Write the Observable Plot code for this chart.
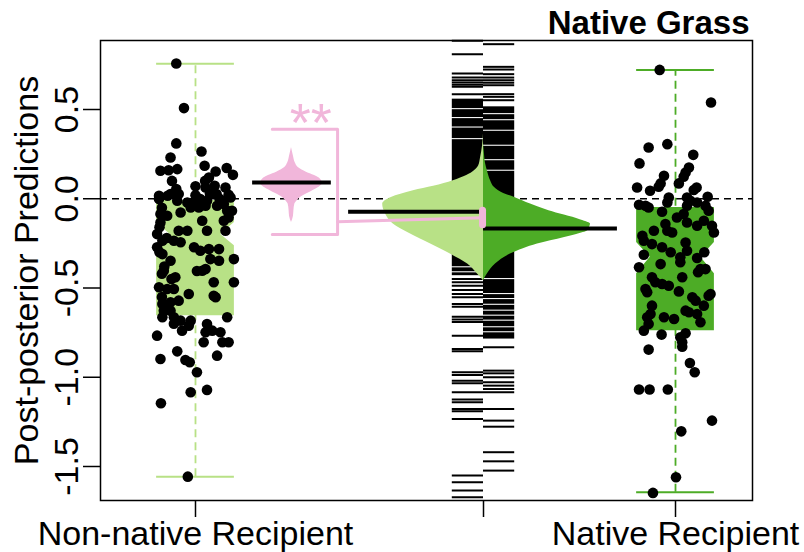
<!DOCTYPE html>
<html><head><meta charset="utf-8">
<script src="https://cdn.jsdelivr.net/npm/d3@7"></script>
<script src="https://cdn.jsdelivr.net/npm/@observablehq/plot@0.6"></script>
<style>body{margin:0;background:#fff}</style>
</head><body><div id="chart"></div>
<script>
// ---------- data ----------
const yTicks = [-1.5, -1, -0.5, 0, 0.5];
const xTicks = [1, 1.6, 2];
const xTickLabels = ["Non-native Recipient", "", "Native Recipient"];
const title = "Native Grass";
const yLabel = "Post-posterior Predictions";
const signif = "**";

// box stats: [min, q1, notchLo, median, notchHi, q3, max]
const nonNativeBox = [-1.557, -0.655, -0.263, -0.2, -0.133, -0.01, 0.757];
const nativeBox = [-1.644, -0.739, -0.42, -0.328, -0.245, -0.049, 0.722];

// jittered observations [x offset, value]
const nonNativePts = [
[-0.04,0.758],[-0.024,0.508],[-0.04,0.31],[0.0125,0.265],[-0.052,0.231],[-0.073,0.157],[-0.056,0.16],[-0.038,0.166],
[0.019,0.185],[0.065,0.172],[0.078,0.134],[0.042,0.153],[0.028,0.119],[0.021,0.063],[0.04,0.073],[0.044,0.026],
[0.0625,0.063],[0.069,0.022],[-0.049,0.1],[-0.04,0.054],[-0.052,0.026],[-0.035,0.026],[-0.076,0.017],[-0.058,0.017],
[-0.076,-0.002],[-0.038,-0.011],[-0.017,-0.021],[0,-0.011],[0.01,-0.002],[0.024,-0.011],[0.056,-0.011],[0.073,0.007],
[-0.031,-0.077],[-0.01,-0.049],[0.007,-0.049],[0.021,-0.039],[0.045,-0.039],[0.066,-0.067],[0.076,-0.067],[0.059,-0.03],
[-0.073,-0.086],[-0.059,-0.095],[-0.073,-0.133],[0.014,-0.123],[0.024,-0.179],[0.059,-0.123],[0.0625,-0.179],[0.069,-0.105],
[-0.08,-0.198],[-0.069,-0.235],[-0.035,-0.179],[-0.017,-0.179],[-0.031,-0.244],[-0.045,-0.235],[-0.08,-0.272],[-0.003,-0.272],
[0.01,-0.291],[0.028,-0.282],[0.049,-0.282],[0.031,-0.338],[0.049,-0.347],[0.08,-0.338],[-0.069,-0.31],[-0.052,-0.347],
[-0.066,-0.403],[-0.042,-0.44],[0.014,-0.403],[0.021,-0.394],[0.003,-0.405],[-0.076,-0.496],[-0.059,-0.506],[-0.045,-0.506],
[-0.014,-0.534],[0.038,-0.468],[0.038,-0.543],[0.042,-0.552],[0.08,-0.468],[-0.069,-0.59],[-0.052,-0.58],[-0.035,-0.571],
[-0.066,-0.627],[-0.052,-0.627],[-0.069,-0.664],[-0.045,-0.664],[-0.031,-0.683],[-0.01,-0.683],[-0.014,-0.711],[-0.028,-0.739],
[0.024,-0.702],[0.021,-0.748],[0.035,-0.739],[0.066,-0.664],[0.052,-0.748],[0.056,-0.804],[0.069,-0.804],[-0.08,-0.767],
[-0.073,-0.898],[-0.038,-0.855],[-0.021,-0.903],[-0.012,-0.916],[0.003,-0.972],[0.017,-0.804],[0.045,-0.879],[-0.01,-1.084],
[0.024,-1.071],[-0.072,-1.146],[-0.016,-1.557],
[-0.07,-0.05],[-0.075,-0.16],[-0.06,-0.22],[-0.065,-0.38],[-0.05,-0.45],[-0.07,-0.55],[-0.06,-0.6],[-0.045,-0.7],
[-0.07,-0.42],[-0.075,-0.3],[0.0,0.02],[0.03,0.03],[0.05,0.0],[0.0,0.07],[0.02,0.1]
];
const nativePts = [
[-0.033,0.722],[0.074,0.539],[-0.056,0.287],[-0.017,0.306],[-0.075,0.198],[0.037,0.246],[0.028,0.175],[0.021,0.147],
[0.017,0.123],[0.007,0.086],[-0.024,0.129],[-0.031,0.086],[-0.035,0.067],[-0.08,0.063],[-0.053,0.045],[0.044,0.063],
[0.038,0.049],[0.067,0.011],[0.024,0.007],[-0.014,0.007],[-0.017,-0.021],[-0.076,-0.034],[-0.0625,-0.039],[-0.056,-0.049],
[0.031,-0.011],[0.045,-0.021],[0.0625,-0.039],[0.069,-0.067],[0.024,-0.039],[-0.028,-0.073],[-0.021,-0.142],[0.003,-0.105],
[0.017,-0.086],[0.024,-0.133],[0.045,-0.151],[0.059,-0.123],[0.076,-0.151],[0.08,-0.189],[-0.069,-0.207],[-0.045,-0.179],
[-0.017,-0.179],[-0.007,-0.189],[-0.066,-0.235],[-0.049,-0.254],[-0.028,-0.272],[-0.01,-0.3],[0.021,-0.245],[0.024,-0.291],
[0.01,-0.328],[0.01,-0.356],[0.045,-0.332],[0.06,-0.3],[-0.076,-0.384],[-0.066,-0.314],[-0.031,-0.366],[0.014,-0.44],
[0.047,-0.412],[0.052,-0.394],[0.0625,-0.394],[-0.049,-0.44],[-0.042,-0.468],[-0.028,-0.478],[-0.014,-0.487],[-0.0625,-0.506],
[-0.059,-0.524],[0.007,-0.519],[0.035,-0.552],[0.042,-0.571],[0.059,-0.599],[0.069,-0.543],[0.073,-0.534],[-0.049,-0.599],
[-0.052,-0.646],[-0.059,-0.664],[-0.056,-0.702],[-0.066,-0.739],[-0.024,-0.664],[-0.003,-0.674],[0.021,-0.627],[0.028,-0.636],
[0.045,-0.646],[0.052,-0.692],[-0.029,-0.761],[0.01,-0.776],[0.021,-0.754],[0.014,-0.804],[0.014,-0.829],[-0.056,-0.845],
[0.03,-0.92],[0.04,-0.972],[-0.076,-1.069],[-0.054,-1.069],[-0.016,-1.069],[0.076,-1.243],[0.012,-1.303],[0.001,-1.56],
[-0.047,-1.648]
];

// posterior densities: [value, half-width in x units]
const effectDensity = [
[-0.133,0],[-0.1,0.004],[-0.067,0.005],[-0.03,0.007],[-0.011,0.012],[0.01,0.02],[0.026,0.031],[0.05,0.048],
[0.07,0.06],[0.085,0.065],[0.1,0.063],[0.119,0.056],[0.13,0.048],[0.15,0.03],[0.175,0.014],[0.2,0.008],[0.24,0.004],[0.287,0]
];
const nonNativeDensity = [
[-0.459,0],[-0.422,0.0125],[-0.366,0.033],[-0.31,0.069],[-0.254,0.11],[-0.198,0.152],[-0.142,0.188],[-0.086,0.204],
[-0.03,0.21],[0.007,0.192],[0.045,0.146],[0.07,0.104],[0.101,0.063],[0.13,0.035],[0.157,0.019],[0.185,0.01],
[0.231,0.006],[0.297,0.002],[0.364,0]
];
const nativeDensity = [
[-0.459,0],[-0.422,0.008],[-0.366,0.025],[-0.31,0.056],[-0.28,0.083],[-0.254,0.1125],[-0.217,0.169],[-0.2,0.194],
[-0.179,0.217],[-0.16,0.221],[-0.142,0.223],[-0.123,0.208],[-0.11,0.194],[-0.086,0.16],[-0.06,0.129],[-0.03,0.098],
[0.007,0.065],[0.03,0.042],[0.063,0.023],[0.1,0.015],[0.157,0.008],[0.2,0.004],[0.25,0.002],[0.31,0]
];
// posterior means
const effectMean = 0.091;
const nonNativeMean = -0.073;
const nativeMean = -0.166;
const diffRange = [-0.067, -0.148];
const bracketRange = [0.39, -0.2];
const connector = [[1.296, -0.129], [1.6, -0.107]];

// posterior sample rugs
const rugNonNative = [0.885,0.81,0.702,0.679,0.664,0.651,0.638,0.627,0.586,-0.45,-0.468,-0.487,-0.511,-0.534,-0.552,
-0.59,-0.605,-0.661,-0.676,-0.691,-0.767,-0.842,-0.855,-0.972,-0.987,-1.019,-1.034,-1.084,-1.125,-1.14,-1.178,-1.191,
-1.234,-1.551,-1.588,-1.635,-1.672];
const rugNonNativeDense = [[0.558,0.505],[0.499,0.455],[0.449,0.402],[0.396,0.337],[0.331,-0.381],[-0.387,-0.409],[-0.415,-0.431]];
const rugNative = [0.866,0.739,0.724,0.698,0.679,0.664,0.65,0.636,0.586,0.571,0.552,-0.832,-0.963,-0.978,-1.0,-1.028,
-1.047,-1.066,-1.084,-1.178,-1.243,-1.277,-1.42,-1.471,-1.523];
const rugNativeDense = [[0.515,0.477],[0.471,0.443],[0.437,0.384],[0.378,0.3],[0.294,0.219],[0.213,0.16],[0.154,-0.447],
[-0.453,-0.531],[-0.537,-0.559],[-0.565,-0.591],[-0.597,-0.624],[-0.63,-0.652],[-0.658,-0.68],[-0.686,-0.717],[-0.723,-0.745],[-0.751,-0.786]];

// ---------- drawing ----------
const LIGHT = "#B8E186", DARK = "#4DAC26", PINK = "#F1B6DA";
const posNN = 1, posN = 2, posMid = 1.6, posEff = 1.2;
const boxHW = 0.081, notchFrac = 0.65, rugW = 0.065;

function boxOutline(b, c) {
  const [mn, q1, nl, md, nh, q3, mx] = b;
  return [[q1, boxHW], [nl, boxHW], [md, boxHW * notchFrac], [nh, boxHW], [q3, boxHW]].map(([y, w]) => ({y, x1: c - w, x2: c + w}));
}
function boxMarks(b, c, col) {
  const [mn, q1, nl, md, nh, q3, mx] = b;
  return [
    Plot.ruleX([[mn, mx]], {x: c, y1: d => d[0], y2: d => d[1], stroke: col, strokeWidth: 1.8, strokeDasharray: "8,5"}),
    Plot.ruleY([mn, mx], {y: d => d, x1: c - boxHW, x2: c + boxHW, stroke: col, strokeWidth: 2}),
    Plot.areaX(boxOutline(b, c), {y: "y", x1: "x1", x2: "x2", fill: col, curve: "linear"})
  ];
}

const chart = Plot.plot({
  width: 804, height: 552,
  marginLeft: 100, marginRight: 52, marginTop: 40, marginBottom: 52,
  x: {domain: [0.8021, 2.1604]},
  y: {domain: [-1.6905, 0.8866]},
  style: {fontFamily: "'Liberation Sans', Arial, Helvetica, sans-serif", background: "white", color: "black", overflow: "visible"},
  marks: [
    Plot.ruleY([0], {stroke: "black", strokeWidth: 1.5, strokeDasharray: "7,5"}),
    // rugs
    Plot.rect(rugNonNativeDense, {x1: posMid - rugW, x2: posMid, y1: d => d[0], y2: d => d[1], fill: "black"}),
    Plot.rect(rugNativeDense, {x1: posMid, x2: posMid + rugW, y1: d => d[0], y2: d => d[1], fill: "black"}),
    Plot.ruleY(rugNonNative, {y: d => d, x1: posMid - rugW, x2: posMid, stroke: "black", strokeWidth: 2}),
    Plot.ruleY(rugNative, {y: d => d, x1: posMid, x2: posMid + rugW, stroke: "black", strokeWidth: 2}),
    // split violin
    Plot.areaX(nonNativeDensity, {y: d => d[0], x1: d => posMid - d[1], x2: posMid, fill: LIGHT, curve: "monotone-y"}),
    Plot.areaX(nativeDensity, {y: d => d[0], x1: posMid, x2: d => posMid + d[1], fill: DARK, curve: "monotone-y"}),
    // effect violin
    Plot.areaX(effectDensity, {y: d => d[0], x1: d => posEff - d[1], x2: d => posEff + d[1], fill: PINK, curve: "monotone-y"}),
    // boxes
    ...boxMarks(nonNativeBox, posNN, LIGHT),
    ...boxMarks(nativeBox, posN, DARK),
    // mean lines
    Plot.ruleY([effectMean], {y: d => d, x1: 1.119, x2: 1.283, stroke: "black", strokeWidth: 4}),
    Plot.ruleY([nonNativeMean], {y: d => d, x1: 1.319, x2: posMid, stroke: "black", strokeWidth: 4}),
    Plot.ruleY([nativeMean], {y: d => d, x1: posMid, x2: 1.879, stroke: "black", strokeWidth: 4}),
    // bracket and connector
    Plot.line([[1.16, bracketRange[0]], [1.296, bracketRange[0]], [1.296, bracketRange[1]], [1.16, bracketRange[1]]],
      {x: d => d[0], y: d => d[1], stroke: PINK, strokeWidth: 3, curve: "linear"}),
    Plot.line(connector, {x: d => d[0], y: d => d[1], stroke: PINK, strokeWidth: 3}),
    Plot.ruleX([diffRange], {x: posMid - 0.002, y1: d => d[0], y2: d => d[1], stroke: PINK, strokeWidth: 7, strokeLinecap: "round"}),
    Plot.text([signif], {text: d => d, x: 1.24, y: 0.5, dy: 14, fill: PINK, fontSize: 54, textAnchor: "middle", lineAnchor: "middle"}),
    // points
    Plot.dot(nonNativePts, {x: d => posNN + d[0], y: d => d[1], r: 5.3, fill: "black", stroke: "none"}),
    Plot.dot(nativePts, {x: d => posN + d[0], y: d => d[1], r: 5.3, fill: "black", stroke: "none"}),
    // frame & axes
    Plot.frame({stroke: "black", strokeWidth: 1.5}),
    Plot.axisY({ticks: yTicks, tickSize: 17, tickFormat: () => "", label: null, strokeWidth: 1.5}),
    Plot.text(yTicks, {y: d => d, text: d => d.toFixed(1), frameAnchor: "left", dx: -23, rotate: -90,
      textAnchor: "middle", lineAnchor: "bottom", fontSize: 34}),
    Plot.text([yLabel], {text: d => d, frameAnchor: "left", dx: -63, rotate: -90,
      textAnchor: "middle", lineAnchor: "bottom", fontSize: 34}),
    Plot.axisX({ticks: xTicks, tickSize: 17, tickPadding: 3, label: null, strokeWidth: 1.5,
      tickFormat: d => xTickLabels[xTicks.indexOf(d)], fontSize: 34}),
    Plot.text([title], {text: d => d, frameAnchor: "top-right", dx: -3, dy: -7, textAnchor: "end",
      lineAnchor: "bottom", fontWeight: "bold", fontSize: 33})
  ]
});
document.getElementById("chart").appendChild(chart);
</script></body></html>
